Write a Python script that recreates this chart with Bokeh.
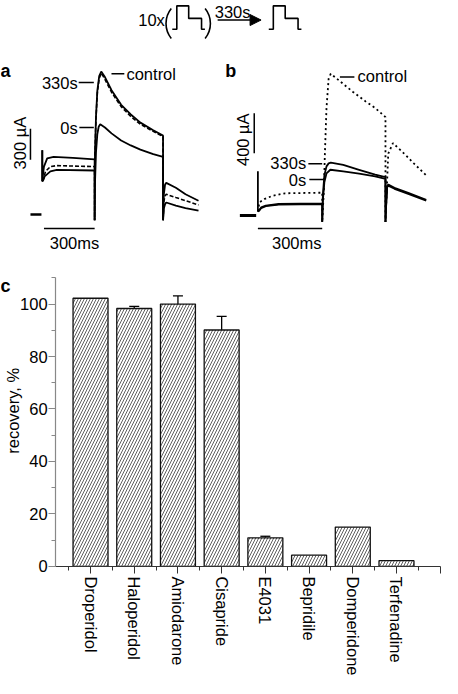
import math
from bokeh.plotting import figure
from bokeh.models import (Range1d, Arrow, NormalHead, FixedTicker, LinearAxis,
                          SingleIntervalTicker, Whisker, TeeHead, ColumnDataSource)
from bokeh.core.properties import value
from bokeh.embed import file_html
from bokeh.resources import INLINE

# ---------------- data ----------------
# voltage protocol (schematic): time ms, voltage mV
proto_t = [-115, 0, 0, 300, 300, 625, 625, 710]
proto_v = [-80, -80, 40, 40, -24, -24, -80, -80]

# panel a: currents (uA) vs time (ms)
a_t_0s = [0, 0, 5, 10, 29, 67, 181, 310, 310, 312, 318, 326, 334, 343, 371, 410, 467, 524, 581, 657, 715, 715, 720, 727, 734, 791, 848, 925]
a_i_0s = [622, 322, 400, 464, 543, 559, 549, 533, -57, 300, 600, 780, 850, 874, 843, 786, 717, 669, 628, 584, 559, -57, 200, 290, 306, 259, 196, 133]
a_t_330 = [0, 0, 5, 14, 48, 86, 310, 310, 312, 318, 326, 337, 349, 371, 410, 467, 524, 581, 657, 715, 715, 720, 727, 734, 791, 848, 925]
a_i_330 = [622, 322, 330, 369, 417, 433, 426, -57, 600, 950, 1200, 1340, 1385, 1332, 1205, 1063, 969, 890, 817, 764, -57, 60, 100, 116, 85, 62, 38]
a_t_ctl = [0, 6, 19, 48, 86, 310, 310, 312, 318, 326, 337, 350, 371, 410, 467, 524, 581, 657, 715, 715, 720, 727, 734, 791, 848, 925]
a_i_ctl = [322, 338, 417, 464, 473, 464, -57, 580, 930, 1180, 1320, 1370, 1310, 1185, 1045, 950, 875, 805, 755, -57, 130, 180, 196, 164, 133, 92]
a_hold_t = [-70, -5]
a_hold_i = [0, 0]

# panel b
b_t_330 = [0, 0, 5, 15, 37, 97, 300, 300, 303, 310, 320, 330, 340, 398, 472, 547, 595, 595, 599, 603, 608, 637, 698, 785]
b_i_330 = [440, 40, 50, 80, 98, 114, 120, -65, 200, 400, 490, 520, 527, 504, 456, 407, 383, -65, 150, 290, 309, 276, 227, 156]
b_t_0s = [0, 5, 15, 37, 97, 300, 300, 303, 310, 320, 338, 398, 472, 547, 595, 595, 599, 603, 608, 637, 698, 785]
b_i_0s = [40, 45, 72, 92, 108, 112, -65, 150, 330, 420, 456, 439, 417, 390, 364, -65, 140, 280, 298, 266, 218, 148]
b_t_ctl = [0, 7, 30, 67, 127, 300, 300, 308, 312, 320, 330, 340, 442, 502, 547, 595, 595, 608, 630, 682, 727, 785]
b_i_ctl = [40, 130, 163, 195, 221, 227, -65, 260, 585, 1073, 1366, 1415, 1236, 1139, 1073, 982, -65, 618, 722, 618, 520, 400]
b_hold_t = [-84, -8]
b_hold_i = [0, 0]

# scale bars
a_bar_ua = 300
a_bar_ms = 300
b_bar_ua = 400
b_bar_ms = 300

# panel c
drugs = ["Droperidol", "Haloperidol", "Amiodarone", "Cisapride", "E4031",
         "Bepridile", "Domperidone", "Terfenadine"]
recovery = [102.2, 98.3, 100.0, 90.1, 10.9, 4.3, 15.0, 2.2]
sem = [0, 0.8, 3.1, 5.2, 0.6, 0, 0, 0]
y_ticks_interval = 20

# ---------------- layout ----------------
FONT = "Liberation Sans"
FS = "16.5px"
REF_W, REF_H = 458, 694
W, H = 442, 678

p = figure(width=W, height=H, x_range=Range1d(0, REF_W), y_range=Range1d(REF_H, 0),
           output_backend="svg", toolbar_location=None, min_border=0,
           min_border_left=0, min_border_right=0, min_border_top=0, min_border_bottom=0,
           x_axis_location=None, y_axis_location=None)
p.grid.visible = False
p.outline_line_color = None
p.background_fill_color = "white"
p.border_fill_color = "white"


def xr(origin, ppu):
    return Range1d((0 - origin) / ppu, (REF_W - origin) / ppu)


def yr(origin, ppu):
    return Range1d((origin - REF_H) / ppu, origin / ppu)


p.extra_x_ranges = {"ta": xr(43.3, 0.175), "tb": xr(266.7, 0.2222),
                    "p1": xr(182.7, 0.041), "p2": xr(282.7, 0.041),
                    "cx": xr(48.0, 45.29)}
p.extra_y_ranges = {"ia": yr(219, 0.1056), "ib": yr(220, 0.1025), "v": yr(13.5, 0.2),
                    "cy": yr(579.3, 2.686)}


def txt(x, y, s, align="center", baseline="middle", size=FS, style="normal", angle=0.0):
    p.text(x=[x], y=[y], text=[s], text_align=align, text_baseline=baseline,
           text_font=value(FONT), text_font_size=value(size),
           text_font_style=value(style), angle=angle, text_color="black")


# header: protocol "10x ( pulse ) --330s--> pulse"
for rn in ("p1", "p2"):
    p.line(proto_t, proto_v, x_range_name=rn, y_range_name="v", line_color="black", line_width=1.6)
txt(156.5, 20, "10x")
half = math.radians(39)
p.arc(x=[196.1], y=[23.5], radius=24.6, start_angle=math.pi - half, end_angle=math.pi + half,
      line_color="black", line_width=1.6)
p.arc(x=[192.9], y=[23.5], radius=24.6, start_angle=-half, end_angle=half,
      line_color="black", line_width=1.6)
txt(240.5, 11.7, "330s", baseline="alphabetic")
p.add_layout(Arrow(end=NormalHead(size=11, fill_color="black", line_color="black", line_width=1),
                   x_start=225, y_start=20, x_end=270, y_end=20, line_width=1.5, line_color="black"))

# panel labels
txt(0, 71.7, "a", align="left", baseline="alphabetic", size="18px", style="bold")
txt(233, 71.7, "b", align="left", baseline="alphabetic", size="18px", style="bold")
txt(0, 292.7, "c", align="left", baseline="alphabetic", size="18px", style="bold")

# panel a traces
kw = dict(x_range_name="ta", y_range_name="ia", line_color="black")
p.line(a_t_ctl, a_i_ctl, line_width=1.6, line_dash="4 2", **kw)
p.line(a_t_330, a_i_330, line_width=1.8, **kw)
p.line(a_t_0s, a_i_0s, line_width=1.8, **kw)
p.line(a_hold_t, a_hold_i, line_width=2.5, **kw)
p.line([-70, -70], [530, 530 + a_bar_ua], line_width=1.5, **kw)
p.line([10, 10 + a_bar_ms], [-135, -135], line_width=1.5, **kw)
txt(20, 146, "300 µA", angle=math.pi / 2)
txt(76.7, 248.3, "300ms")
txt(80, 84, "330s", align="right")
p.line([81, 96.7], [84, 84], line_color="black", line_width=1.5)
txt(80, 130, "0s", align="right")
p.line([81.7, 96.7], [130, 130], line_color="black", line_width=1.5)
p.line([115, 128.3], [75, 75], line_color="black", line_width=1.5)
txt(130.5, 75, "control", align="left")

# panel b traces
kw = dict(x_range_name="tb", y_range_name="ib", line_color="black")
p.line(b_t_ctl, b_i_ctl, line_width=1.8, line_dash="2 3", **kw)
p.line(b_t_330, b_i_330, line_width=1.8, **kw)
p.line(b_t_0s, b_i_0s, line_width=1.8, **kw)
p.line(b_hold_t, b_hold_i, line_width=3, **kw)
p.line([-17, -17], [620, 620 + b_bar_ua], line_width=1.5, **kw)
p.line([0, b_bar_ms], [-130, -130], line_width=1.5, **kw)
txt(251, 142.5, "400 µA", angle=math.pi / 2)
txt(307, 248.3, "300ms")
txt(316.7, 166.7, "330s", align="right")
p.line([319, 333.3], [167, 167], line_color="black", line_width=1.5)
txt(316.7, 183.3, "0s", align="right")
p.line([320, 335], [183.3, 183.3], line_color="black", line_width=1.5)
p.line([351.7, 366.7], [78.3, 78.3], line_color="black", line_width=1.5)
txt(370, 77, "control", align="left")

# ---------------- panel c ----------------
xs = list(range(1, len(drugs) + 1))
src = ColumnDataSource(dict(x=xs, top=recovery, name=drugs))
p.vbar(x="x", top="top", width=0.8, source=src, x_range_name="cx", y_range_name="cy",
       fill_color="white", line_color="#111111", line_width=1.3,
       hatch_pattern="/", hatch_color="#4d4d4d", hatch_scale=6, hatch_weight=0.9)

eidx = [i for i, e in enumerate(sem) if e > 0]
esrc = ColumnDataSource(dict(x=[xs[i] for i in eidx], lower=[recovery[i] for i in eidx],
                             upper=[recovery[i] + sem[i] for i in eidx]))
p.add_layout(Whisker(source=esrc, base="x", lower="lower", upper="upper", line_width=1.3,
                     line_color="black", lower_head=None, x_range_name="cx", y_range_name="cy",
                     upper_head=TeeHead(size=10, line_width=1.3, line_color="black")))

ov = {x: d for x, d in zip(xs, drugs)}
ov[9] = ""
xa = LinearAxis(x_range_name="cx", y_range_name="cy", fixed_location=0, bounds=(0.2, 9.0),
                ticker=FixedTicker(ticks=xs + [9], minor_ticks=[v - 0.5 for v in xs] + [8.5]),
                major_label_overrides=ov, major_label_orientation="vertical",
                major_label_standoff=3)
ya = LinearAxis(x_range_name="cx", y_range_name="cy", fixed_location=0.2, bounds=(0, 110),
                ticker=SingleIntervalTicker(interval=y_ticks_interval, num_minor_ticks=2),
                major_label_standoff=1)
for ax, col in ((xa, "#333333"), (ya, "#888888")):
    ax.axis_line_color = col
    ax.axis_line_width = 1.2
    ax.major_tick_line_color = col
    ax.minor_tick_line_color = col
    ax.major_tick_in = 0
    ax.major_tick_out = 7
    ax.minor_tick_in = 0
    ax.minor_tick_out = 4
    ax.major_label_text_font = FONT
    ax.major_label_text_font_size = FS
    ax.major_label_text_color = "black"
p.add_layout(xa, "below")
p.add_layout(ya, "left")

txt(13, 420, "recovery, %", angle=math.pi / 2)

open("out.html", "w").write(file_html(p, INLINE))
